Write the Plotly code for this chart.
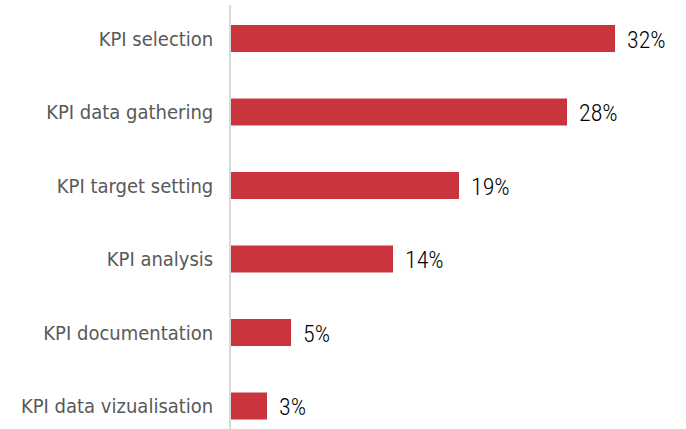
import plotly.graph_objects as go

categories = ["KPI selection", "KPI data gathering", "KPI target setting",
              "KPI analysis", "KPI documentation", "KPI data vizualisation"]
values = [32, 28, 19, 13.5, 5, 3]
labels = ["32%", "28%", "19%", "14%", "5%", "3%"]

bar_color = "#C9343D"

fig = go.Figure(go.Bar(
    x=values, y=categories, orientation="h",
    marker=dict(color=bar_color, line=dict(width=0)),
    width=0.37, hoverinfo="skip",
))

for c, v, t in zip(categories, values, labels):
    fig.add_annotation(x=v, y=c, text=t, showarrow=False, xanchor="left",
                       xshift=10, yshift=-1,
                       font=dict(family="Roboto Condensed, Lato",
                                 size=24, weight=300, color="#000000"))

fig.update_layout(
    width=686, height=429,
    margin=dict(l=231, r=55, t=5, b=0),
    paper_bgcolor="white", plot_bgcolor="white",
    showlegend=False,
    xaxis=dict(range=[0, 400/12], visible=False, fixedrange=True),
    yaxis=dict(type="category", categoryorder="array", categoryarray=categories,
               range=[5.313, -0.456], showgrid=False, zeroline=False,
               showline=True, linecolor="#D9D9D9", linewidth=1.5,
               ticks="", ticklabelstandoff=12,
               tickfont=dict(family="DejaVu Sans Condensed, DejaVu Sans", size=20,
                             color="#595959")),
)

fig.write_html("out.html")
